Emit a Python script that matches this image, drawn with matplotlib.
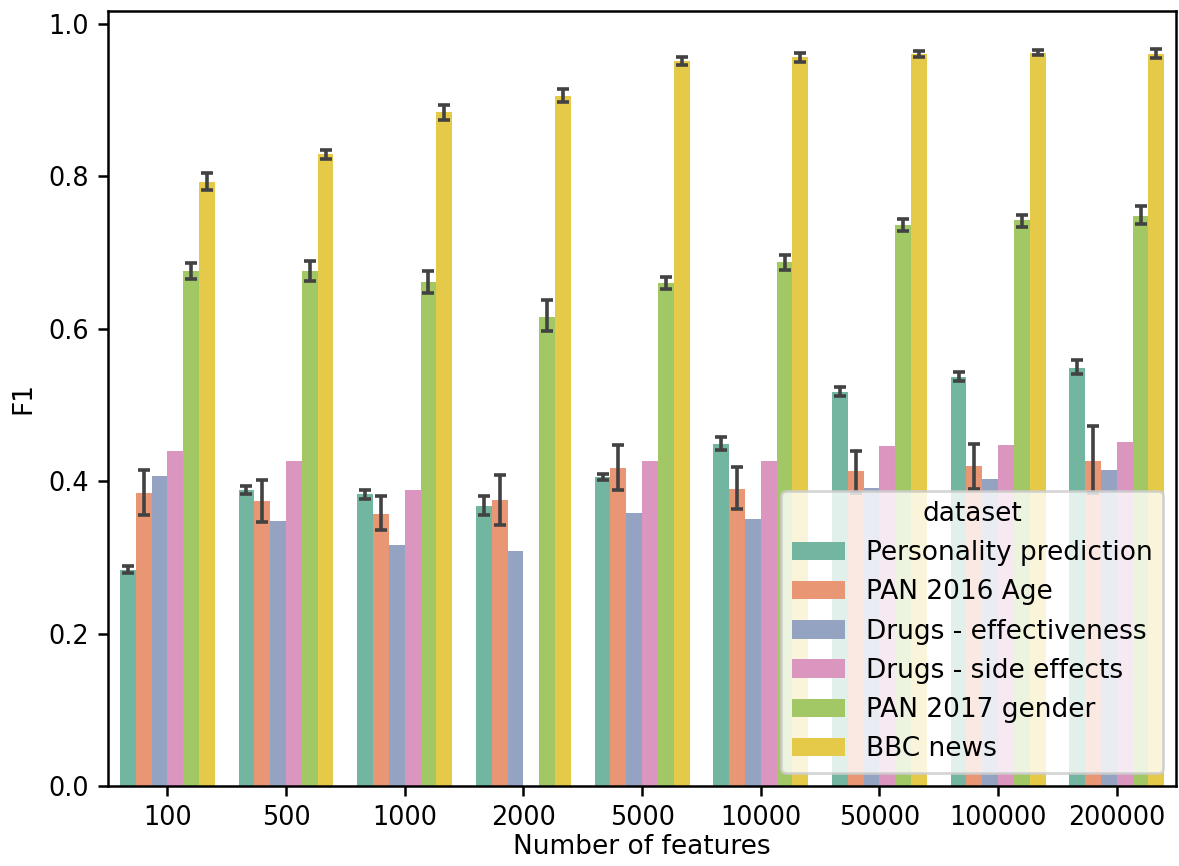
import numpy as np
import matplotlib

matplotlib.use("Agg")
import matplotlib.pyplot as plt
import seaborn as sns

features = ["100", "500", "1000", "2000", "5000", "10000", "50000", "100000", "200000"]
datasets = ["Personality prediction", "PAN 2016 Age", "Drugs - effectiveness",
            "Drugs - side effects", "PAN 2017 gender", "BBC news"]

personality = [0.284, 0.389, 0.383, 0.368, 0.406, 0.449, 0.517, 0.537, 0.549]
personality_lo = [0.280, 0.383, 0.377, 0.356, 0.402, 0.441, 0.512, 0.531, 0.541]
personality_hi = [0.288, 0.394, 0.389, 0.381, 0.410, 0.458, 0.524, 0.543, 0.559]

pan2016 = [0.385, 0.374, 0.357, 0.375, 0.417, 0.390, 0.413, 0.420, 0.427]
pan2016_lo = [0.356, 0.347, 0.336, 0.342, 0.389, 0.363, 0.385, 0.390, 0.384]
pan2016_hi = [0.414, 0.402, 0.380, 0.408, 0.447, 0.419, 0.440, 0.449, 0.472]

drugs_eff = [0.407, 0.348, 0.316, 0.308, 0.358, 0.350, 0.391, 0.403, 0.415]
drugs_side = [0.439, 0.426, 0.389, np.nan, 0.426, 0.427, 0.446, 0.447, 0.451]

pan2017 = [0.676, 0.676, 0.661, 0.616, 0.660, 0.687, 0.736, 0.742, 0.748]
pan2017_lo = [0.665, 0.663, 0.647, 0.597, 0.652, 0.677, 0.728, 0.733, 0.737]
pan2017_hi = [0.686, 0.689, 0.676, 0.638, 0.668, 0.697, 0.744, 0.749, 0.761]

bbc = [0.793, 0.829, 0.884, 0.906, 0.951, 0.956, 0.960, 0.962, 0.961]
bbc_lo = [0.782, 0.823, 0.874, 0.898, 0.946, 0.950, 0.957, 0.959, 0.955]
bbc_hi = [0.804, 0.834, 0.893, 0.914, 0.957, 0.962, 0.964, 0.966, 0.967]

series = [
    (personality, personality_lo, personality_hi),
    (pan2016, pan2016_lo, pan2016_hi),
    (drugs_eff, None, None),
    (drugs_side, None, None),
    (pan2017, pan2017_lo, pan2017_hi),
    (bbc, bbc_lo, bbc_hi),
]

plt.rcParams["font.family"] = ["DejaVu Sans"]
colors = sns.color_palette("Set2", len(datasets), desat=0.75)

fig = plt.figure(figsize=(5.895, 4.33), dpi=200)
ax = fig.add_axes([0.0916, 0.0924, 0.906, 0.895])

x = np.arange(len(features))
n = len(datasets)
w = 0.8 / n
for i, (name, (vals, lo, hi)) in enumerate(zip(datasets, series)):
    pos = x - 0.4 + w * (i + 0.5)
    vals = np.asarray(vals, dtype=float)
    ax.bar(pos, vals, width=w, color=colors[i], label=name, linewidth=0)
    if lo is not None:
        lo = np.asarray(lo)
        hi = np.asarray(hi)
        ax.errorbar(pos, vals, yerr=[vals - lo, hi - vals], fmt="none",
                    ecolor="#424242", elinewidth=1.3, capsize=2.0, capthick=1.3)

ax.set_xticks(x)
ax.set_xticklabels(features)
ax.set_xlim(-0.5, len(features) - 0.5)
ax.set_ylim(0, 1.017)
ax.tick_params(labelsize=9.2, width=0.9, length=3.5)
for s in ax.spines.values():
    s.set_linewidth(0.9)
ax.set_xlabel("Number of features", fontsize=9.5, labelpad=1)
ax.set_ylabel("F1", fontsize=9.5)
ax.legend(title="dataset", loc="lower right", fontsize=9.5, title_fontsize=9.5)

fig.savefig("out.png", dpi=200)
